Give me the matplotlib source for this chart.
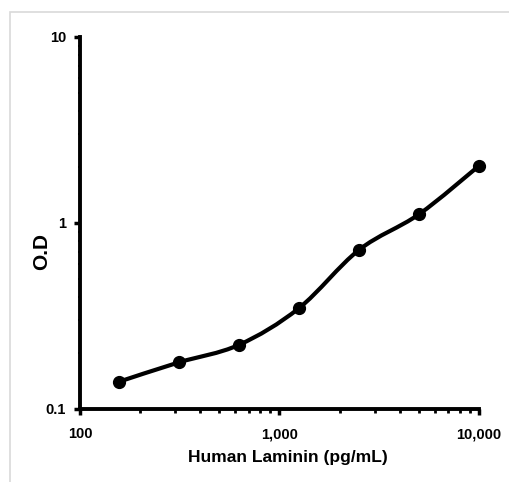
import numpy as np
import matplotlib
matplotlib.use("Agg")
import matplotlib.pyplot as plt
from matplotlib.path import Path
from matplotlib.patches import PathPatch, Rectangle
from matplotlib.ticker import FixedLocator, FixedFormatter, LogLocator, NullFormatter

conc = [156.25, 312.5, 625, 1250, 2500, 5000, 10000]
od = [0.140, 0.178, 0.221, 0.348, 0.716, 1.114, 2.03]
x_ticks = [100, 1000, 10000]
x_labels = ["100", "1,000", "10,000"]
y_ticks = [0.1, 1, 10]
y_labels = ["0.1", "1", "10"]

plt.rcParams['font.family'] = ['Liberation Sans', 'DejaVu Sans']

fig = plt.figure(figsize=(5.1, 4.82), dpi=100)
fig.patches.append(Rectangle((10/510, -0.1), 1.2, 1 - 12/482 + 0.1, transform=fig.transFigure,
                             fill=False, edgecolor='#d9d9d9', linewidth=1.2))
ax = fig.add_axes([80/510, 1 - 409/482, (479-80)/510, (409-37)/482])
ax.set_xscale('log')
ax.set_yscale('log')
ax.set_xlim(100, 10000)
ax.set_ylim(0.1, 10)

# smoothed curve (Catmull-Rom in log space, as Excel smoothing)
lx = np.log10(conc)
ly = np.log10(od)
verts = [(conc[0], od[0])]
codes = [Path.MOVETO]
n = len(lx)
for i in range(n - 1):
    p0 = (lx[max(i-1, 0)], ly[max(i-1, 0)])
    p1 = (lx[i], ly[i])
    p2 = (lx[i+1], ly[i+1])
    p3 = (lx[min(i+2, n-1)], ly[min(i+2, n-1)])
    t = 1/6
    c1 = (p1[0] + (p2[0]-p0[0])*t, p1[1] + (p2[1]-p0[1])*t)
    c2 = (p2[0] - (p3[0]-p1[0])*t, p2[1] - (p3[1]-p1[1])*t)
    for c in (c1, c2, p2):
        verts.append((10**c[0], 10**c[1]))
    codes += [Path.CURVE4]*3
ax.add_patch(PathPatch(Path(verts, codes), fill=False, edgecolor='black', linewidth=3, zorder=3,
                       clip_on=False))
ax.plot(conc, od, linestyle='none', marker='o', markersize=8.5, color='black', zorder=4, clip_on=False)

for s in ['top', 'right']:
    ax.spines[s].set_visible(False)
for s in ['left', 'bottom']:
    ax.spines[s].set_linewidth(2.8)

ax.xaxis.set_major_locator(FixedLocator(x_ticks))
ax.xaxis.set_major_formatter(FixedFormatter(x_labels))
ax.yaxis.set_major_locator(FixedLocator(y_ticks))
ax.yaxis.set_major_formatter(FixedFormatter(y_labels))
ax.xaxis.set_minor_locator(LogLocator(base=10, subs=np.arange(2, 10)))
ax.xaxis.set_minor_formatter(NullFormatter())
ax.yaxis.set_minor_locator(LogLocator(base=10, subs=np.arange(2, 10)))
ax.yaxis.set_minor_formatter(NullFormatter())
ax.tick_params(which='major', direction='out', length=4, width=2.5, labelsize=10.5)
ax.tick_params(which='minor', direction='out', length=3, width=2, axis='x')
ax.tick_params(which='minor', direction='out', length=1.5, width=1.5, axis='y')
ax.tick_params(axis='x', which='major', pad=9)
ax.tick_params(axis='y', which='major', pad=6)
for lab in ax.get_xticklabels() + ax.get_yticklabels():
    lab.set_fontweight('bold')

ax.set_xlabel('Human Laminin (pg/mL)', fontsize=12.5, fontweight='bold')
ax.xaxis.set_label_coords(0.52, (409 - 450) / 372)
ax.set_ylabel('O.D', fontsize=15, fontweight='bold')
ax.yaxis.set_label_coords((51 - 80) / 399, (409 - 251) / 372)

fig.savefig('out.png', dpi=100)
